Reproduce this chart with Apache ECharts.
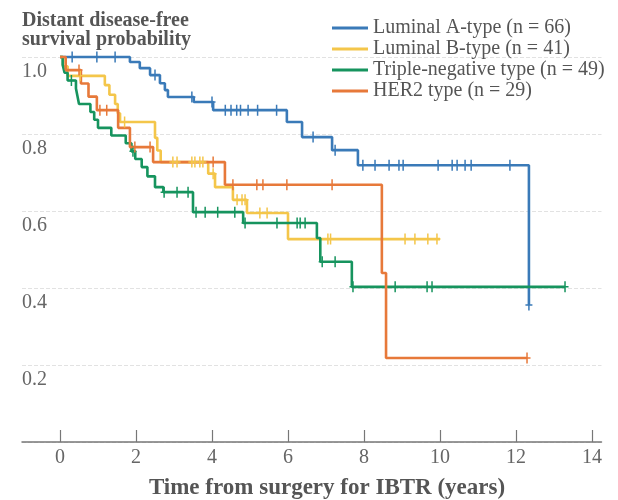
<!DOCTYPE html>
<html>
<head>
<meta charset="utf-8">
<script src="https://cdn.jsdelivr.net/npm/echarts@6/dist/echarts.min.js"></script>
<style>html,body{margin:0;padding:0;background:#fff}#c{width:618px;height:500px}</style>
</head>
<body>
<div id="c"></div>
<script>
// ---- data ----
var seriesNames = ['Luminal A-type (n = 66)', 'Luminal B-type (n = 41)', 'Triple-negative type (n = 49)', 'HER2 type (n = 29)'];
// step points [time (years), survival probability]
var lumA = [[0,1.0],[1.84,0.987],[2.1,0.971],[2.37,0.953],[2.63,0.932],[2.76,0.914],[2.84,0.896],[3.52,0.883],[4.03,0.862],[5.97,0.831],[6.37,0.792],[7.16,0.758],[7.84,0.719],[12.34,0.356]];
var lumB = [[0,1.0],[0.08,0.976],[0.2,0.951],[1.18,0.927],[1.3,0.902],[1.45,0.878],[1.52,0.854],[1.58,0.831],[2.5,0.79],[2.56,0.757],[2.65,0.727],[3.9,0.697],[4.08,0.662],[4.55,0.629],[4.92,0.595],[6.0,0.527],[10.0,0.527]];
var tripleNeg = [[0,1.0],[0.07,0.98],[0.12,0.959],[0.2,0.939],[0.42,0.918],[0.46,0.898],[0.5,0.878],[0.8,0.857],[0.9,0.837],[1.0,0.816],[1.35,0.796],[1.73,0.776],[1.88,0.755],[1.98,0.735],[2.15,0.714],[2.3,0.69],[2.5,0.662],[2.72,0.649],[3.5,0.597],[4.82,0.569],[6.76,0.53],[6.85,0.468],[7.68,0.403],[13.29,0.403]];
var her2 = [[0,1.0],[0.15,0.966],[0.55,0.931],[0.75,0.897],[0.97,0.862],[1.53,0.816],[1.84,0.766],[2.45,0.727],[4.34,0.668],[8.47,0.439],[8.58,0.218],[12.29,0.218]];
// censoring times (years)
var lumACens = [0.32,0.97,1.45,2.5,3.47,4.0,4.35,4.5,4.65,4.75,4.95,5.2,5.7,6.66,7.24,7.97,8.29,8.66,8.92,9.03,9.95,10.32,10.45,10.66,10.82,11.84,12.34];
var lumBCens = [0.53,1.7,2.97,3.08,3.47,3.55,3.68,3.76,4.03,4.66,4.79,4.87,5.26,5.45,7.05,7.12,9.08,9.34,9.68,9.92];
var tripleNegCens = [0.3,1.92,2.74,3.08,3.37,3.58,3.82,4.15,4.6,4.87,5.71,6.24,6.32,6.45,6.9,7.24,7.71,8.82,9.66,9.79,13.29];
var her2Cens = [0.5,1.05,1.23,1.97,2.37,4.03,4.55,5.18,5.34,5.97,7.16,12.29];
var xTicks = [0,2,4,6,8,10,12,14];
var yTicks = [0,0.2,0.4,0.6,0.8,1.0];

var colors = ['#3a7ab8','#f4c64a','#16945e','#e7793a'];
var curves = [lumA, lumB, tripleNeg, her2];
var cens = [lumACens, lumBCens, tripleNegCens, her2Cens];

function stepValue(curve, t){
  var v = curve[0][1];
  for (var i=0;i<curve.length;i++){ if (curve[i][0] <= t + 1e-9) v = curve[i][1]; }
  return v;
}

var serif = '"Liberation Serif", "DejaVu Serif", serif';
var plus = 'path://M5.5,0h3v9.5h5.5v3h-5.5v9.5h-3v-9.5h-5.5v-3h5.5z';

var series = [];
curves.forEach(function(c, i){
  series.push({
    name: seriesNames[i], type:'line', step:'end', data:c, symbol:'none', clip:false,
    lineStyle:{color:colors[i], width:2.6}, itemStyle:{color:colors[i]}, z:3+i
  });
});
cens.forEach(function(ts, i){
  series.push({
    name: 'cens'+i, type:'scatter', clip:false, silent:true,
    data: ts.map(function(t){ return [t, stepValue(curves[i], t)]; }),
    symbol: plus, symbolSize:[7,11], itemStyle:{color:colors[i], opacity:1}, z:10+i
  });
});

var chart = echarts.init(document.getElementById('c'), null, {renderer:'canvas'});
chart.setOption({
  animation:false,
  backgroundColor:'#fff',
  grid:{left:22, right:16.5, top:57, bottom:58},
  legend:{
    data: seriesNames, orient:'vertical', left:327, top:13, itemWidth:36, itemHeight:3, itemGap:1,
    icon:'rect', textStyle:{fontFamily:serif, fontSize:20, lineHeight:20, color:'#555'}
  },
  xAxis:{
    type:'value', min:-1, max:14.25,
    axisLine:{show:true, lineStyle:{color:'#777', width:1.5}},
    axisTick:{show:true, inside:true, length:12, customValues:xTicks, lineStyle:{color:'#777', width:1.2}},
    axisLabel:{customValues:xTicks, margin:6, fontFamily:serif, fontSize:20, color:'#666'},
    splitLine:{show:false}
  },
  yAxis:{
    type:'value', min:0, max:1.0, interval:0.2,
    axisLine:{show:false}, axisTick:{show:false},
    axisLabel:{inside:true, margin:0, align:'left', verticalAlign:'top', padding:[5,0,0,0],
      fontFamily:serif, fontSize:20, color:'#666',
      formatter:function(v){ return v===0 ? '' : v.toFixed(1); }},
    splitLine:{show:true, lineStyle:{color:'#e2e2e2', type:'dashed', width:1}}
  },
  graphic:[
    {type:'text', x:22, y:11, style:{text:'Distant disease-free\nsurvival probability', fontFamily:serif, fontWeight:'bold', fontSize:20, lineHeight:19, fill:'#555', textVerticalAlign:'top'}},
    {type:'text', x:327, y:488, style:{text:'Time from surgery for IBTR (years)', fontFamily:serif, fontWeight:'bold', fontSize:23, fill:'#555', textAlign:'center', textVerticalAlign:'middle'}}
  ],
  series: series
});
</script>
</body>
</html>
